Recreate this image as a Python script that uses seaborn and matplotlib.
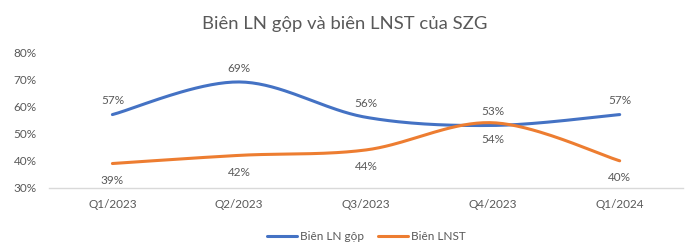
import numpy as np
import pandas as pd
import matplotlib
matplotlib.use("Agg")
import matplotlib.pyplot as plt
import seaborn as sns

# data
quarters = ["Q1/2023", "Q2/2023", "Q3/2023", "Q4/2023", "Q1/2024"]
bien_ln_gop = [57, 69, 56, 53, 57]
bien_lnst = [39, 42, 44, 54, 40]
series_names = ["Biên LN gộp", "Biên LNST"]

title = "Biên LN gộp và biên LNST của SZG"
colors = ["#4472C4", "#ED7D31"]
text_color = "#595959"


def smooth_curve(y, steps=40):
    # Excel-style smoothed line: cubic bezier with Catmull-Rom control points
    x = np.arange(len(y), dtype=float)
    y = np.asarray(y, dtype=float)
    px = np.concatenate([[x[0]], x, [x[-1]]])
    py = np.concatenate([[y[0]], y, [y[-1]]])
    xs, ys = [], []
    t = np.linspace(0, 1, steps)
    for i in range(len(x) - 1):
        p0 = np.array([px[i + 1], py[i + 1]])
        p3 = np.array([px[i + 2], py[i + 2]])
        p1 = p0 + (np.array([px[i + 2], py[i + 2]]) - np.array([px[i], py[i]])) / 6
        p2 = p3 - (np.array([px[i + 3], py[i + 3]]) - np.array([px[i + 1], py[i + 1]])) / 6
        b = ((1 - t) ** 3)[:, None] * p0 + (3 * (1 - t) ** 2 * t)[:, None] * p1 \
            + (3 * (1 - t) * t ** 2)[:, None] * p2 + (t ** 3)[:, None] * p3
        xs.extend(b[:, 0])
        ys.extend(b[:, 1])
    return np.array(xs), np.array(ys)


sns.set_theme(style="white")
plt.rcParams["font.family"] = ["Lato", "DejaVu Sans"]

fig = plt.figure(figsize=(6.9, 2.49), dpi=100)
ax = fig.add_axes([0.071, 0.245, 0.919, 0.546])

for name, vals, col, off in zip(series_names, [bien_ln_gop, bien_lnst], colors, [10, -12]):
    cx, cy = smooth_curve(vals)
    df = pd.DataFrame({"x": cx, "y": cy})
    sns.lineplot(data=df, x="x", y="y", ax=ax, color=col, linewidth=2.2,
                 sort=False, label=name)
    for i, v in enumerate(vals):
        ax.annotate(f"{v}%", (i, v), xytext=(0, off), textcoords="offset points",
                    ha="center", va="center", fontsize=8.5, color=text_color)

ax.set_xlim(-0.5, len(quarters) - 0.5)
ax.set_ylim(30, 80)
ax.set_xticks(range(len(quarters)))
ax.set_xticklabels(quarters)
ax.set_yticks(range(30, 81, 10))
ax.set_yticklabels([f"{v}%" for v in range(30, 81, 10)])
ax.tick_params(axis="both", labelsize=8.5, colors=text_color, length=0)
ax.tick_params(axis="x", pad=8)
ax.tick_params(axis="y", pad=9)
ax.set_xlabel("")
ax.set_ylabel("")
for s in ["top", "right", "left"]:
    ax.spines[s].set_visible(False)
ax.spines["bottom"].set_color("#D9D9D9")
ax.spines["bottom"].set_linewidth(1)
ax.grid(False)

fig.suptitle(title, y=0.935, fontsize=13.3, color=text_color)

leg = ax.legend(loc="upper center", bbox_to_anchor=(0.5, -0.24), ncol=2, frameon=False,
                fontsize=8.5, handlelength=2.6, handletextpad=0.2, columnspacing=1.2)
for t in leg.get_texts():
    t.set_color(text_color)

fig.savefig("out.png", dpi=100)
